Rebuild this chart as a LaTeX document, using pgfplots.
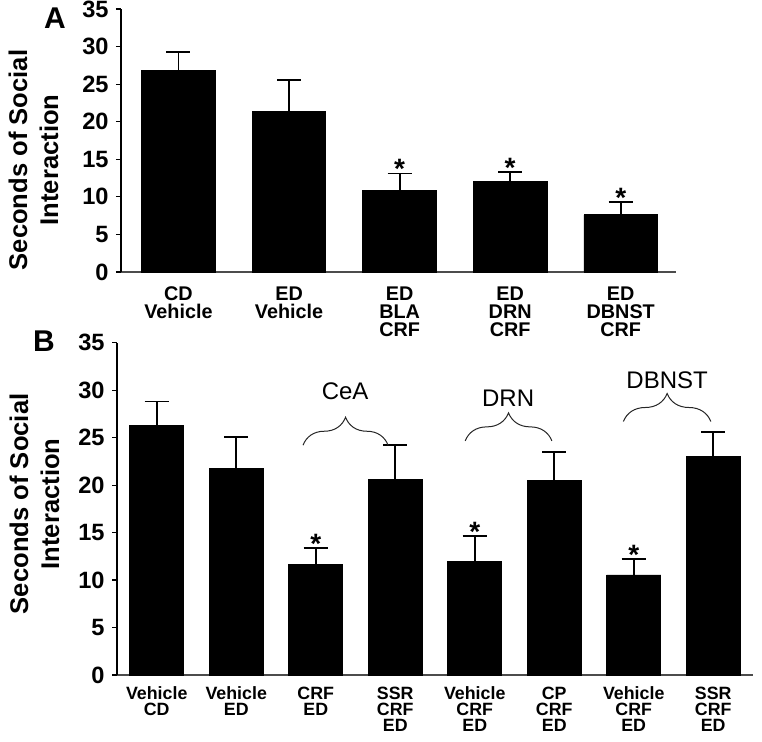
\documentclass[border=0pt]{standalone}
\usepackage{pgfplots}
\pgfplotsset{compat=1.18}
\usepackage{fontspec}
\setmainfont{Liberation Sans}
\usetikzlibrary{decorations.pathreplacing}
\begin{document}
\begin{tikzpicture}
\path[use as bounding box] (0pt,0pt) rectangle (381pt,-371pt);
\pgfplotsset{
 myax/.style={
  scale only axis,
  axis lines=left,
  axis line style={-},
  x axis line style={black!70, line width=0.7pt},
  y axis line style={black, line width=0.6pt},
  ymin=0, ymax=35, ytick={0,5,...,35},
  xtick=data,
  x tick style={draw=none},
  y tick style={black, line width=0.6pt},
  tick align=outside,
  major tick length=2.5pt,
  /pgf/number format/assume math mode=true,
  yticklabel style={font=\bfseries\fontsize{11.8}{11.8}\selectfont, inner sep=3.5pt},
  ybar,
  ylabel style={align=center, font=\bfseries\fontsize{12.8}{15.5}\selectfont, inner sep=0pt, anchor=south},
  clip=false,
 },
 barst/.style={fill=black, draw=black,
   error bars/.cd, y dir=plus, y explicit,
   error bar style={line width=0.9pt, black},
   error mark options={rotate=90, line width=0.9pt, mark size=6pt, black}},
}
\tikzset{
 mystar/.style={font=\bfseries\fontsize{14}{14}\selectfont, anchor=base, inner sep=0pt, yshift=-2.5pt},
 brc/.style={decorate, decoration={brace, amplitude=14pt}, black!85, line width=0.5pt},
 brl/.style={font=\fontsize{12}{12}\selectfont, inner sep=0pt},
}
% Panel A
\begin{axis}[myax, at={(60.5pt,-136pt)}, anchor=south west,
  width=277.5pt, height=131.5pt,
  xmin=-0.52, xmax=4.5, bar width=0.665,
  xticklabels={{CD\\Vehicle},{ED\\Vehicle},{ED\\BLA\\CRF},{ED\\DRN\\CRF},{ED\\DBNST\\CRF}},
  xticklabel style={align=center, font=\bfseries\fontsize{9.9}{9}\selectfont, yshift=-1.5pt},
  ylabel={Seconds of Social\\Interaction},
  ylabel style={at={(axis description cs:-0.112,0.426)}}]
\addplot[barst] coordinates {
 (0,26.8) +- (0,2.5)
 (1,21.35) +- (0,4.25)
 (2,10.9) +- (0,2.2)
 (3,12.1) +- (0,1.2)
 (4,7.6) +- (0,1.7)
};
\node[mystar] at (axis cs:2,13.1) {*};
\node[mystar] at (axis cs:3,13.3) {*};
\node[mystar] at (axis cs:4,9.3) {*};
\end{axis}
% Panel B
\begin{axis}[myax, at={(58.5pt,-337.5pt)}, anchor=south west,
  width=318pt, height=166.15pt,
  xmin=-0.5, xmax=7.5, bar width=0.68,
  xticklabels={{Vehicle\\CD},{Vehicle\\ED},{CRF\\ED},{SSR\\CRF\\ED},{Vehicle\\CRF\\ED},{CP\\CRF\\ED},{Vehicle\\CRF\\ED},{SSR\\CRF\\ED}},
  xticklabel style={align=center, font=\bfseries\fontsize{8.9}{8}\selectfont},
  ylabel={Seconds of Social\\Interaction},
  ylabel style={at={(axis description cs:-0.09,0.515)}}]
\addplot[barst] coordinates {
 (0,26.3) +- (0,2.5)
 (1,21.8) +- (0,3.3)
 (2,11.66) +- (0,1.7)
 (3,20.55) +- (0,3.65)
 (4,11.94) +- (0,2.7)
 (5,20.5) +- (0,3.0)
 (6,10.54) +- (0,1.66)
 (7,23.0) +- (0,2.6)
};
\node[mystar] at (axis cs:2,13.36) {*};
\node[mystar] at (axis cs:4,14.64) {*};
\node[mystar] at (axis cs:6,12.2) {*};
\draw[brc] (axis cs:1.84,24.2) -- (axis cs:2.91,24.2);
\draw[brc] (axis cs:3.88,24.66) -- (axis cs:4.97,24.66);
\draw[brc] (axis cs:5.87,26.7) -- (axis cs:6.97,26.7);
\node[brl] at (axis cs:2.37,29.85) {CeA};
\node[brl] at (axis cs:4.42,29.2) {DRN};
\node[brl] at (axis cs:6.42,31.0) {DBNST};
\end{axis}
\node[font=\bfseries\fontsize{15}{15}\selectfont] at (27.5pt,-9pt) {A};
\node[font=\bfseries\fontsize{15}{15}\selectfont] at (22pt,-170.75pt) {B};
\end{tikzpicture}
\end{document}
